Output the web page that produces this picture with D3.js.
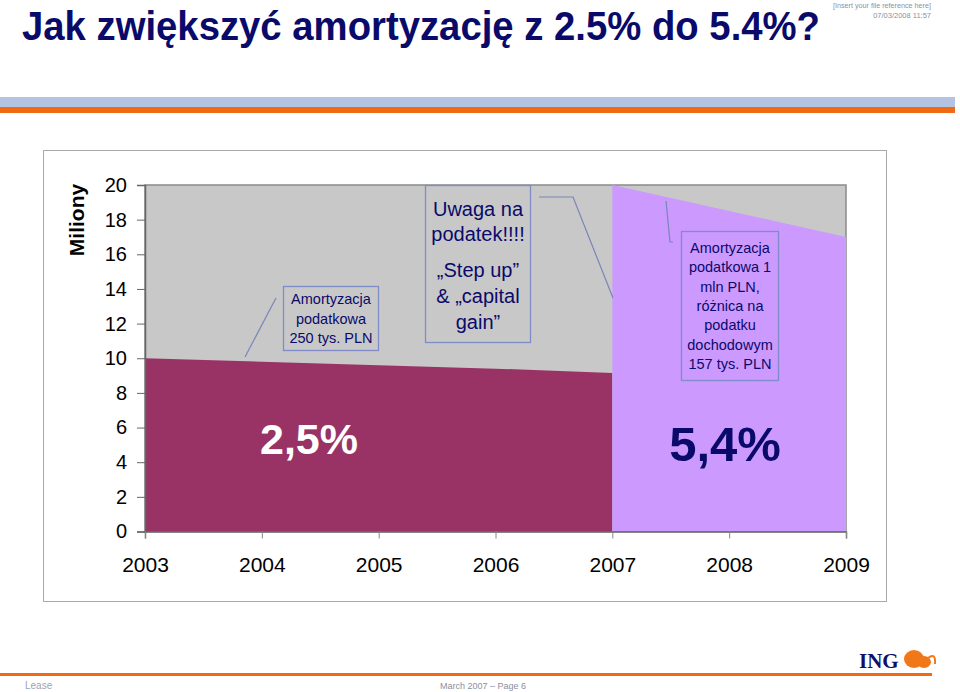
<!DOCTYPE html>
<html>
<head>
<meta charset="utf-8">
<script src="https://cdn.jsdelivr.net/npm/d3@7"></script>
<style>
  body { margin: 0; background: #fff; }
  svg { display: block; font-family: "Liberation Sans", Arial, sans-serif; }
</style>
</head>
<body>
<div id="slide"></div>
<script>
// data
var years = [2003, 2004, 2005, 2006, 2007, 2008, 2009];
var yTicks = [0, 2, 4, 6, 8, 10, 12, 14, 16, 18, 20];
var years25 = [2003, 2004, 2005, 2006, 2007];
var amort25 = [10.0, 9.8, 9.6, 9.4, 9.15];
var years54 = [2007, 2008, 2009];
var amort54 = [20.0, 18.5, 17.0];

var w = 960, h = 692;
var navy = "#0a0a6a";

var svg = d3.select("#slide").append("svg")
    .attr("width", w)
    .attr("height", h);

// header
svg.append("text")
    .attr("x", 22).attr("y", 40)
    .attr("font-size", 38).attr("font-weight", "bold")
    .attr("fill", navy)
    .attr("transform", "translate(0,40) scale(1,1.05) translate(0,-40)")
    .attr("textLength", 798).attr("lengthAdjust", "spacingAndGlyphs")
    .text("Jak zwiększyć amortyzację z 2.5% do 5.4%?");

svg.append("text")
    .attr("x", 931).attr("y", 7.5)
    .attr("text-anchor", "end").attr("font-size", 7.5).attr("fill", "#8a90a8")
    .attr("textLength", 98).attr("lengthAdjust", "spacingAndGlyphs")
    .text("[Insert your file reference here]");
svg.append("text")
    .attr("x", 931).attr("y", 17.5)
    .attr("text-anchor", "end").attr("font-size", 7.5).attr("fill", "#8a90a8")
    .text("07/03/2008 11:57");

svg.append("rect").attr("x", 0).attr("y", 97).attr("width", 955).attr("height", 10).attr("fill", "#b5c3e3");
svg.append("rect").attr("x", 0).attr("y", 107).attr("width", 955).attr("height", 6).attr("fill", "#f06a14");

// chart frame
svg.append("rect")
    .attr("x", 43.5).attr("y", 150.5).attr("width", 843).attr("height", 451)
    .attr("fill", "#fff").attr("stroke", "#a8a8a8");

var xScale = d3.scaleLinear().domain([2003, 2009]).range([145, 846]);
var yScale = d3.scaleLinear().domain([0, 20]).range([531.5, 185]);

// plot area
svg.append("rect")
    .attr("x", xScale(2003)).attr("y", yScale(20))
    .attr("width", xScale(2009) - xScale(2003))
    .attr("height", yScale(0) - yScale(20))
    .attr("fill", "#c8c8c8").attr("stroke", "#8a8a8a").attr("stroke-width", 1.5);

var area = d3.area()
    .x(function(d) { return xScale(d[0]); })
    .y0(yScale(0))
    .y1(function(d) { return yScale(d[1]); });

svg.append("path")
    .datum(years25.map(function(y, i) { return [y, amort25[i]]; }))
    .attr("d", area)
    .attr("fill", "#993366");

svg.append("path")
    .datum(years54.map(function(y, i) { return [y, amort54[i]]; }))
    .attr("d", area)
    .attr("fill", "#cc99ff");

// axes
var yAxis = d3.axisLeft(yScale).tickValues(yTicks).tickSize(8).tickPadding(10);
var gy = svg.append("g")
    .attr("transform", "translate(" + xScale(2003) + ",0)")
    .call(yAxis);
gy.selectAll("text").attr("font-size", 20).attr("font-family", "Liberation Sans, Arial").attr("fill", "#000");
gy.selectAll("line").attr("stroke", "#666");
gy.select(".domain").attr("stroke", "#666").attr("stroke-width", 1.5);

var xAxis = d3.axisBottom(xScale).tickValues(years).tickFormat(d3.format("d")).tickSize(7).tickPadding(19);
var gx = svg.append("g")
    .attr("transform", "translate(0," + yScale(0) + ")")
    .call(xAxis);
gx.selectAll("text").attr("font-size", 21).attr("font-family", "Liberation Sans, Arial").attr("fill", "#000");
gx.selectAll("line").attr("stroke", "#888");
gx.select(".domain").attr("stroke", "#666").attr("stroke-width", 1.5);

svg.append("text")
    .attr("transform", "translate(84,220) rotate(-90)")
    .attr("text-anchor", "middle")
    .attr("font-size", 21).attr("font-weight", "bold")
    .text("Miliony");

// annotation boxes
var boxStroke = "#7f8cc8";
var lineStroke = "#7886b8";

function noteBox(x, y, bw, bh, lines, size, firstY, step) {
    svg.append("rect")
        .attr("x", x).attr("y", y).attr("width", bw).attr("height", bh)
        .attr("fill", "none").attr("stroke", boxStroke).attr("stroke-width", 1.3);
    var t = svg.append("text")
        .attr("text-anchor", "middle")
        .attr("font-size", size).attr("fill", navy);
    lines.forEach(function(l, i) {
        var yy = firstY + (Array.isArray(step) ? step[i] : i * step);
        t.append("tspan").attr("x", x + bw / 2).attr("y", yy).text(l);
    });
}

noteBox(283.5, 286.5, 95, 64, ["Amortyzacja", "podatkowa", "250 tys. PLN"], 14.5, 304, 19.5);
svg.append("line").attr("x1", 245).attr("y1", 357).attr("x2", 276).attr("y2", 298)
    .attr("stroke", lineStroke).attr("stroke-width", 1.2);

noteBox(425.5, 185.5, 105, 157, ["Uwaga na", "podatek!!!!", "„Step up”", "& „capital", "gain”"], 20, 216, [0, 25, 61, 87, 113]);
svg.append("polyline")
    .attr("points", "539,197 573,197 613,298")
    .attr("fill", "none").attr("stroke", lineStroke).attr("stroke-width", 1.2);

noteBox(681.5, 231.5, 97, 149, ["Amortyzacja", "podatkowa 1", "mln PLN,", "różnica na", "podatku", "dochodowym", "157 tys. PLN"], 14.5, 253, 19.3);
svg.append("polyline")
    .attr("points", "666,201 670,242 673,242")
    .attr("fill", "none").attr("stroke", lineStroke).attr("stroke-width", 1.2);

// rate labels
svg.append("text")
    .attr("x", 309).attr("y", 454)
    .attr("text-anchor", "middle").attr("font-size", 43).attr("font-weight", "bold")
    .attr("fill", "#fff")
    .text("2,5%");
svg.append("text")
    .attr("x", 725).attr("y", 461)
    .attr("text-anchor", "middle").attr("font-size", 49).attr("font-weight", "bold")
    .attr("fill", navy)
    .text("5,4%");

// footer
svg.append("rect").attr("x", 0).attr("y", 673).attr("width", 932).attr("height", 3).attr("fill", "#f06a14");
svg.append("text").attr("x", 25).attr("y", 689).attr("font-size", 10).attr("fill", "#9aa4b8").text("Lease");
svg.append("text").attr("x", 440).attr("y", 689).attr("font-size", 9).attr("fill", "#8a90a0").text("March  2007 – Page 6");

svg.append("text")
    .attr("x", 859).attr("y", 668)
    .attr("font-family", "Liberation Serif, serif").attr("font-size", 21).attr("font-weight", "bold")
    .attr("fill", "#10106a")
    .text("ING");
var lion = svg.append("g").attr("transform", "translate(904,650)").attr("fill", "#f07818");
lion.append("ellipse").attr("cx", 10).attr("cy", 9).attr("rx", 10).attr("ry", 9);
lion.append("ellipse").attr("cx", 20).attr("cy", 12).attr("rx", 7).attr("ry", 6);
lion.append("path").attr("d", "M24,8 q8,-6 7,6").attr("fill", "none").attr("stroke", "#f07818").attr("stroke-width", 2);
</script>
</body>
</html>
